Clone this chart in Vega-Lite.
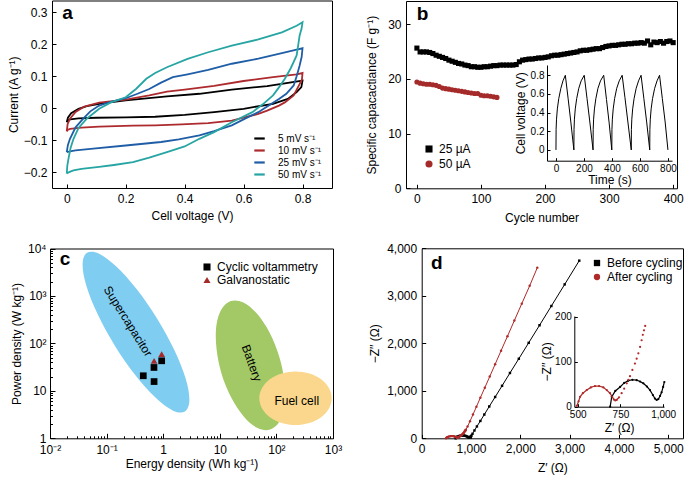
{
"$schema": "https://vega.github.io/schema/vega-lite/v6.json",
"width": 685, "height": 480, "autosize": {"type": "none"}, "padding": 0,
"background": "white",
"config": {
  "view": {"stroke": null},
  "font": "Liberation Sans",
  "axis": {"grid": false, "domainColor": "#000", "tickColor": "#000", "labelColor": "#000", "titleColor": "#000", "titleFontWeight": "normal", "labelFontSize": 12, "titleFontSize": 12, "tickSize": -4, "labelPadding": 9, "labelFont": "Liberation Sans", "titleFont": "Liberation Sans", "labelOverlap": false, "labelFlush": false},
  "legend": {"labelFont": "Liberation Sans", "labelColor": "#000", "labelFontSize": 12},
  "text": {"font": "Liberation Sans", "color": "#000"}
},
"datasets": {
  "cv": [
    {"s":"5 mV s⁻¹","i":0,"v":0,"c":-0.044},{"s":"5 mV s⁻¹","i":1,"v":0.004,"c":-0.03},{"s":"5 mV s⁻¹","i":2,"v":0.015,"c":-0.016},{"s":"5 mV s⁻¹","i":3,"v":0.04,"c":-0.002},{"s":"5 mV s⁻¹","i":4,"v":0.068,"c":0.006},{"s":"5 mV s⁻¹","i":5,"v":0.12,"c":0.015},{"s":"5 mV s⁻¹","i":6,"v":0.2,"c":0.024},{"s":"5 mV s⁻¹","i":7,"v":0.34,"c":0.037},{"s":"5 mV s⁻¹","i":8,"v":0.45,"c":0.045},{"s":"5 mV s⁻¹","i":9,"v":0.56,"c":0.058},{"s":"5 mV s⁻¹","i":10,"v":0.68,"c":0.069},{"s":"5 mV s⁻¹","i":11,"v":0.8,"c":0.086},{"s":"5 mV s⁻¹","i":12,"v":0.796,"c":0.066},{"s":"5 mV s⁻¹","i":13,"v":0.78,"c":0.05},{"s":"5 mV s⁻¹","i":14,"v":0.75,"c":0.029},{"s":"5 mV s⁻¹","i":15,"v":0.7,"c":0.0135},{"s":"5 mV s⁻¹","i":16,"v":0.6,"c":-0.002},{"s":"5 mV s⁻¹","i":17,"v":0.5,"c":-0.0125},{"s":"5 mV s⁻¹","i":18,"v":0.4,"c":-0.021},{"s":"5 mV s⁻¹","i":19,"v":0.3,"c":-0.027},{"s":"5 mV s⁻¹","i":20,"v":0.2,"c":-0.029},{"s":"5 mV s⁻¹","i":21,"v":0.1,"c":-0.03},{"s":"5 mV s⁻¹","i":22,"v":0.04,"c":-0.032},{"s":"5 mV s⁻¹","i":23,"v":0.012,"c":-0.035},{"s":"5 mV s⁻¹","i":24,"v":0.003,"c":-0.04},{"s":"5 mV s⁻¹","i":25,"v":0,"c":-0.044},
    {"s":"10 mV s⁻¹","i":0,"v":0,"c":-0.073},{"s":"10 mV s⁻¹","i":1,"v":0.003,"c":-0.05},{"s":"10 mV s⁻¹","i":2,"v":0.011,"c":-0.033},{"s":"10 mV s⁻¹","i":3,"v":0.03,"c":-0.012},{"s":"10 mV s⁻¹","i":4,"v":0.06,"c":0.005},{"s":"10 mV s⁻¹","i":5,"v":0.11,"c":0.017},{"s":"10 mV s⁻¹","i":6,"v":0.2,"c":0.027},{"s":"10 mV s⁻¹","i":7,"v":0.28,"c":0.04},{"s":"10 mV s⁻¹","i":8,"v":0.34,"c":0.052},{"s":"10 mV s⁻¹","i":9,"v":0.4,"c":0.058},{"s":"10 mV s⁻¹","i":10,"v":0.5,"c":0.07},{"s":"10 mV s⁻¹","i":11,"v":0.6,"c":0.085},{"s":"10 mV s⁻¹","i":12,"v":0.7,"c":0.097},{"s":"10 mV s⁻¹","i":13,"v":0.78,"c":0.106},{"s":"10 mV s⁻¹","i":14,"v":0.8,"c":0.11},{"s":"10 mV s⁻¹","i":15,"v":0.798,"c":0.09},{"s":"10 mV s⁻¹","i":16,"v":0.79,"c":0.075},{"s":"10 mV s⁻¹","i":17,"v":0.77,"c":0.04},{"s":"10 mV s⁻¹","i":18,"v":0.74,"c":0.018},{"s":"10 mV s⁻¹","i":19,"v":0.72,"c":0.008},{"s":"10 mV s⁻¹","i":20,"v":0.68,"c":-0.008},{"s":"10 mV s⁻¹","i":21,"v":0.65,"c":-0.018},{"s":"10 mV s⁻¹","i":22,"v":0.6,"c":-0.03},{"s":"10 mV s⁻¹","i":23,"v":0.56,"c":-0.039},{"s":"10 mV s⁻¹","i":24,"v":0.48,"c":-0.047},{"s":"10 mV s⁻¹","i":25,"v":0.39,"c":-0.051},{"s":"10 mV s⁻¹","i":26,"v":0.3,"c":-0.054},{"s":"10 mV s⁻¹","i":27,"v":0.225,"c":-0.055},{"s":"10 mV s⁻¹","i":28,"v":0.11,"c":-0.058},{"s":"10 mV s⁻¹","i":29,"v":0.05,"c":-0.061},{"s":"10 mV s⁻¹","i":30,"v":0.011,"c":-0.065},{"s":"10 mV s⁻¹","i":31,"v":0.003,"c":-0.068},{"s":"10 mV s⁻¹","i":32,"v":0,"c":-0.073},
    {"s":"25 mV s⁻¹","i":0,"v":0,"c":-0.1375},{"s":"25 mV s⁻¹","i":1,"v":0.004,"c":-0.115},{"s":"25 mV s⁻¹","i":2,"v":0.011,"c":-0.096},{"s":"25 mV s⁻¹","i":3,"v":0.03,"c":-0.06},{"s":"25 mV s⁻¹","i":4,"v":0.056,"c":-0.033},{"s":"25 mV s⁻¹","i":5,"v":0.08,"c":-0.01},{"s":"25 mV s⁻¹","i":6,"v":0.11,"c":0.008},{"s":"25 mV s⁻¹","i":7,"v":0.15,"c":0.02},{"s":"25 mV s⁻¹","i":8,"v":0.2,"c":0.031},{"s":"25 mV s⁻¹","i":9,"v":0.24,"c":0.045},{"s":"25 mV s⁻¹","i":10,"v":0.28,"c":0.06},{"s":"25 mV s⁻¹","i":11,"v":0.32,"c":0.08},{"s":"25 mV s⁻¹","i":12,"v":0.36,"c":0.097},{"s":"25 mV s⁻¹","i":13,"v":0.41,"c":0.106},{"s":"25 mV s⁻¹","i":14,"v":0.48,"c":0.12},{"s":"25 mV s⁻¹","i":15,"v":0.56,"c":0.139},{"s":"25 mV s⁻¹","i":16,"v":0.65,"c":0.155},{"s":"25 mV s⁻¹","i":17,"v":0.73,"c":0.172},{"s":"25 mV s⁻¹","i":18,"v":0.78,"c":0.183},{"s":"25 mV s⁻¹","i":19,"v":0.8,"c":0.1875},{"s":"25 mV s⁻¹","i":20,"v":0.797,"c":0.16},{"s":"25 mV s⁻¹","i":21,"v":0.79,"c":0.133},{"s":"25 mV s⁻¹","i":22,"v":0.78,"c":0.1},{"s":"25 mV s⁻¹","i":23,"v":0.77,"c":0.071},{"s":"25 mV s⁻¹","i":24,"v":0.745,"c":0.045},{"s":"25 mV s⁻¹","i":25,"v":0.72,"c":0.029},{"s":"25 mV s⁻¹","i":26,"v":0.68,"c":0.005},{"s":"25 mV s⁻¹","i":27,"v":0.65,"c":-0.0125},{"s":"25 mV s⁻¹","i":28,"v":0.6,"c":-0.035},{"s":"25 mV s⁻¹","i":29,"v":0.56,"c":-0.054},{"s":"25 mV s⁻¹","i":30,"v":0.5,"c":-0.072},{"s":"25 mV s⁻¹","i":31,"v":0.45,"c":-0.085},{"s":"25 mV s⁻¹","i":32,"v":0.38,"c":-0.098},{"s":"25 mV s⁻¹","i":33,"v":0.32,"c":-0.106},{"s":"25 mV s⁻¹","i":34,"v":0.2,"c":-0.117},{"s":"25 mV s⁻¹","i":35,"v":0.09,"c":-0.127},{"s":"25 mV s⁻¹","i":36,"v":0.03,"c":-0.132},{"s":"25 mV s⁻¹","i":37,"v":0.011,"c":-0.135},{"s":"25 mV s⁻¹","i":38,"v":0,"c":-0.1375},
    {"s":"50 mV s⁻¹","i":0,"v":0,"c":-0.205},{"s":"50 mV s⁻¹","i":1,"v":0.002,"c":-0.18},{"s":"50 mV s⁻¹","i":2,"v":0.006,"c":-0.158},{"s":"50 mV s⁻¹","i":3,"v":0.013,"c":-0.125},{"s":"50 mV s⁻¹","i":4,"v":0.023,"c":-0.096},{"s":"50 mV s⁻¹","i":5,"v":0.04,"c":-0.062},{"s":"50 mV s⁻¹","i":6,"v":0.068,"c":-0.033},{"s":"50 mV s⁻¹","i":7,"v":0.11,"c":-0.002},{"s":"50 mV s⁻¹","i":8,"v":0.15,"c":0.018},{"s":"50 mV s⁻¹","i":9,"v":0.2,"c":0.034},{"s":"50 mV s⁻¹","i":10,"v":0.235,"c":0.06},{"s":"50 mV s⁻¹","i":11,"v":0.27,"c":0.092},{"s":"50 mV s⁻¹","i":12,"v":0.3,"c":0.11},{"s":"50 mV s⁻¹","i":13,"v":0.34,"c":0.128},{"s":"50 mV s⁻¹","i":14,"v":0.41,"c":0.154},{"s":"50 mV s⁻¹","i":15,"v":0.48,"c":0.175},{"s":"50 mV s⁻¹","i":16,"v":0.56,"c":0.196},{"s":"50 mV s⁻¹","i":17,"v":0.65,"c":0.215},{"s":"50 mV s⁻¹","i":18,"v":0.73,"c":0.2375},{"s":"50 mV s⁻¹","i":19,"v":0.78,"c":0.258},{"s":"50 mV s⁻¹","i":20,"v":0.8,"c":0.269},{"s":"50 mV s⁻¹","i":21,"v":0.797,"c":0.25},{"s":"50 mV s⁻¹","i":22,"v":0.79,"c":0.227},{"s":"50 mV s⁻¹","i":23,"v":0.785,"c":0.195},{"s":"50 mV s⁻¹","i":24,"v":0.78,"c":0.165},{"s":"50 mV s⁻¹","i":25,"v":0.76,"c":0.125},{"s":"50 mV s⁻¹","i":26,"v":0.74,"c":0.092},{"s":"50 mV s⁻¹","i":27,"v":0.72,"c":0.065},{"s":"50 mV s⁻¹","i":28,"v":0.7,"c":0.04},{"s":"50 mV s⁻¹","i":29,"v":0.665,"c":0.012},{"s":"50 mV s⁻¹","i":30,"v":0.63,"c":-0.0125},{"s":"50 mV s⁻¹","i":31,"v":0.56,"c":-0.044},{"s":"50 mV s⁻¹","i":32,"v":0.5,"c":-0.075},{"s":"50 mV s⁻¹","i":33,"v":0.45,"c":-0.096},{"s":"50 mV s⁻¹","i":34,"v":0.4,"c":-0.12},{"s":"50 mV s⁻¹","i":35,"v":0.34,"c":-0.1375},{"s":"50 mV s⁻¹","i":36,"v":0.28,"c":-0.155},{"s":"50 mV s⁻¹","i":37,"v":0.225,"c":-0.169},{"s":"50 mV s⁻¹","i":38,"v":0.16,"c":-0.178},{"s":"50 mV s⁻¹","i":39,"v":0.11,"c":-0.184},{"s":"50 mV s⁻¹","i":40,"v":0.05,"c":-0.19},{"s":"50 mV s⁻¹","i":41,"v":0.023,"c":-0.195},{"s":"50 mV s⁻¹","i":42,"v":0.008,"c":-0.2},{"s":"50 mV s⁻¹","i":43,"v":0,"c":-0.205}
  ],
  "cap": [
    {"s":"25 µA","n":0,"c":25.6},{"s":"25 µA","n":5,"c":24.9},{"s":"25 µA","n":10,"c":24.9},{"s":"25 µA","n":15,"c":24.9},{"s":"25 µA","n":20,"c":24.8},{"s":"25 µA","n":25,"c":24.6},{"s":"25 µA","n":30,"c":24.3},{"s":"25 µA","n":35,"c":24.1},{"s":"25 µA","n":40,"c":23.9},{"s":"25 µA","n":45,"c":23.7},{"s":"25 µA","n":50,"c":23.4},{"s":"25 µA","n":55,"c":23.2},{"s":"25 µA","n":60,"c":23.0},{"s":"25 µA","n":65,"c":22.8},{"s":"25 µA","n":70,"c":22.7},{"s":"25 µA","n":75,"c":22.5},{"s":"25 µA","n":80,"c":22.4},{"s":"25 µA","n":85,"c":22.2},{"s":"25 µA","n":90,"c":22.2},{"s":"25 µA","n":95,"c":22.1},{"s":"25 µA","n":100,"c":22.1},{"s":"25 µA","n":105,"c":22.2},{"s":"25 µA","n":110,"c":22.2},{"s":"25 µA","n":115,"c":22.3},{"s":"25 µA","n":120,"c":22.4},{"s":"25 µA","n":125,"c":22.4},{"s":"25 µA","n":130,"c":22.5},{"s":"25 µA","n":135,"c":22.5},{"s":"25 µA","n":140,"c":22.5},{"s":"25 µA","n":145,"c":22.5},{"s":"25 µA","n":150,"c":22.5},{"s":"25 µA","n":155,"c":22.6},{"s":"25 µA","n":160,"c":23.1},{"s":"25 µA","n":165,"c":23.4},{"s":"25 µA","n":170,"c":23.5},{"s":"25 µA","n":175,"c":23.6},{"s":"25 µA","n":180,"c":23.6},{"s":"25 µA","n":185,"c":23.7},{"s":"25 µA","n":190,"c":23.8},{"s":"25 µA","n":195,"c":23.8},{"s":"25 µA","n":200,"c":23.9},{"s":"25 µA","n":205,"c":24.0},{"s":"25 µA","n":210,"c":24.2},{"s":"25 µA","n":215,"c":24.3},{"s":"25 µA","n":220,"c":24.3},{"s":"25 µA","n":225,"c":24.4},{"s":"25 µA","n":230,"c":24.5},{"s":"25 µA","n":235,"c":24.6},{"s":"25 µA","n":240,"c":24.7},{"s":"25 µA","n":245,"c":24.8},{"s":"25 µA","n":250,"c":24.9},{"s":"25 µA","n":255,"c":25.1},{"s":"25 µA","n":260,"c":25.2},{"s":"25 µA","n":265,"c":25.2},{"s":"25 µA","n":270,"c":25.3},{"s":"25 µA","n":275,"c":25.4},{"s":"25 µA","n":280,"c":25.5},{"s":"25 µA","n":285,"c":25.5},{"s":"25 µA","n":290,"c":25.7},{"s":"25 µA","n":295,"c":25.9},{"s":"25 µA","n":300,"c":26.0},{"s":"25 µA","n":305,"c":26.1},{"s":"25 µA","n":310,"c":26.1},{"s":"25 µA","n":315,"c":26.2},{"s":"25 µA","n":320,"c":26.3},{"s":"25 µA","n":325,"c":26.3},{"s":"25 µA","n":330,"c":26.4},{"s":"25 µA","n":335,"c":26.4},{"s":"25 µA","n":340,"c":26.5},{"s":"25 µA","n":345,"c":26.5},{"s":"25 µA","n":350,"c":26.6},{"s":"25 µA","n":355,"c":26.5},{"s":"25 µA","n":360,"c":26.9},{"s":"25 µA","n":365,"c":26.2},{"s":"25 µA","n":370,"c":26.7},{"s":"25 µA","n":375,"c":26.6},{"s":"25 µA","n":380,"c":26.8},{"s":"25 µA","n":385,"c":26.5},{"s":"25 µA","n":390,"c":26.8},{"s":"25 µA","n":395,"c":26.9},{"s":"25 µA","n":400,"c":26.6},
    {"s":"50 µA","n":0,"c":19.4},{"s":"50 µA","n":5,"c":19.2},{"s":"50 µA","n":10,"c":19.1},{"s":"50 µA","n":15,"c":19.0},{"s":"50 µA","n":20,"c":19.0},{"s":"50 µA","n":25,"c":18.9},{"s":"50 µA","n":30,"c":18.8},{"s":"50 µA","n":35,"c":18.6},{"s":"50 µA","n":40,"c":18.3},{"s":"50 µA","n":45,"c":18.2},{"s":"50 µA","n":50,"c":18.1},{"s":"50 µA","n":55,"c":18.0},{"s":"50 µA","n":60,"c":17.9},{"s":"50 µA","n":65,"c":17.8},{"s":"50 µA","n":70,"c":17.7},{"s":"50 µA","n":75,"c":17.6},{"s":"50 µA","n":80,"c":17.5},{"s":"50 µA","n":85,"c":17.4},{"s":"50 µA","n":90,"c":17.3},{"s":"50 µA","n":95,"c":17.3},{"s":"50 µA","n":100,"c":17.0},{"s":"50 µA","n":105,"c":16.9},{"s":"50 µA","n":110,"c":16.9},{"s":"50 µA","n":115,"c":16.8},{"s":"50 µA","n":120,"c":16.7},{"s":"50 µA","n":125,"c":16.6}
  ],
  "gcd": [
    {"t":0,"v":0},{"t":1,"v":0.22},{"t":4,"v":0.33},{"t":10,"v":0.44},{"t":20,"v":0.55},{"t":35,"v":0.66},{"t":50,"v":0.74},{"t":67,"v":0.8},{"t":87,"v":0.55},{"t":107,"v":0.29},{"t":128,"v":0},
    {"t":129,"v":0.22},{"t":132,"v":0.33},{"t":138,"v":0.44},{"t":148,"v":0.55},{"t":163,"v":0.66},{"t":180,"v":0.74},{"t":202,"v":0.8},{"t":222,"v":0.55},{"t":242,"v":0.3},{"t":265,"v":0},
    {"t":266,"v":0.22},{"t":269,"v":0.33},{"t":275,"v":0.44},{"t":285,"v":0.55},{"t":300,"v":0.66},{"t":318,"v":0.74},{"t":341,"v":0.8},{"t":361,"v":0.54},{"t":380,"v":0.29},{"t":399,"v":0},
    {"t":400,"v":0.22},{"t":403,"v":0.33},{"t":409,"v":0.44},{"t":419,"v":0.55},{"t":434,"v":0.66},{"t":452,"v":0.74},{"t":473,"v":0.8},{"t":493,"v":0.56},{"t":513,"v":0.31},{"t":538,"v":0},
    {"t":539,"v":0.22},{"t":542,"v":0.33},{"t":548,"v":0.44},{"t":558,"v":0.55},{"t":573,"v":0.66},{"t":590,"v":0.74},{"t":608,"v":0.8},{"t":628,"v":0.55},{"t":648,"v":0.3},{"t":670,"v":0},
    {"t":671,"v":0.22},{"t":674,"v":0.33},{"t":680,"v":0.44},{"t":690,"v":0.55},{"t":705,"v":0.66},{"t":722,"v":0.74},{"t":740,"v":0.8},{"t":760,"v":0.55},{"t":780,"v":0.3},{"t":800,"v":0}
  ],
  "ell": [
    {"r":"Supercapacitor","i":0,"e":2.42,"p":3.67},{"r":"Supercapacitor","i":1,"e":1.49,"p":3.83},{"r":"Supercapacitor","i":2,"e":0.731,"p":7.21},{"r":"Supercapacitor","i":3,"e":0.318,"p":21.8},{"r":"Supercapacitor","i":4,"e":0.139,"p":90.8},{"r":"Supercapacitor","i":5,"e":0.0693,"p":416},{"r":"Supercapacitor","i":6,"e":0.0437,"p":1667},{"r":"Supercapacitor","i":7,"e":0.0377,"p":4722},{"r":"Supercapacitor","i":8,"e":0.0451,"p":8110},{"r":"Supercapacitor","i":9,"e":0.0735,"p":7762},{"r":"Supercapacitor","i":10,"e":0.150,"p":4121},{"r":"Supercapacitor","i":11,"e":0.344,"p":1365},{"r":"Supercapacitor","i":12,"e":0.787,"p":328},{"r":"Supercapacitor","i":13,"e":1.58,"p":71.5},{"r":"Supercapacitor","i":14,"e":2.50,"p":17.9},{"r":"Supercapacitor","i":15,"e":2.90,"p":6.30},
    {"r":"Battery","i":0,"e":77.4,"p":1.53},{"r":"Battery","i":1,"e":46.6,"p":1.64},{"r":"Battery","i":2,"e":26.9,"p":2.82},{"r":"Battery","i":3,"e":16.1,"p":7.05},{"r":"Battery","i":4,"e":10.8,"p":22.5},{"r":"Battery","i":5,"e":8.75,"p":77.3},{"r":"Battery","i":6,"e":8.67,"p":232},{"r":"Battery","i":7,"e":10.7,"p":524},{"r":"Battery","i":8,"e":15.7,"p":784},{"r":"Battery","i":9,"e":26.1,"p":729},{"r":"Battery","i":10,"e":45.2,"p":425},{"r":"Battery","i":11,"e":75.5,"p":170},{"r":"Battery","i":12,"e":112,"p":53.1},{"r":"Battery","i":13,"e":139,"p":15.5},{"r":"Battery","i":14,"e":140,"p":5.16},{"r":"Battery","i":15,"e":114,"p":2.29},
    {"r":"Fuel cell","i":0,"e":948,"p":7.01},{"r":"Fuel cell","i":1,"e":849,"p":4.27},{"r":"Fuel cell","i":2,"e":617,"p":2.79},{"r":"Fuel cell","i":3,"e":383,"p":2.11},{"r":"Fuel cell","i":4,"e":217,"p":1.91},{"r":"Fuel cell","i":5,"e":124,"p":2.11},{"r":"Fuel cell","i":6,"e":76.7,"p":2.79},{"r":"Fuel cell","i":7,"e":55.8,"p":4.27},{"r":"Fuel cell","i":8,"e":49.9,"p":7.01},{"r":"Fuel cell","i":9,"e":55.8,"p":11.5},{"r":"Fuel cell","i":10,"e":76.7,"p":17.6},{"r":"Fuel cell","i":11,"e":124,"p":23.3},{"r":"Fuel cell","i":12,"e":217,"p":25.7},{"r":"Fuel cell","i":13,"e":383,"p":23.3},{"r":"Fuel cell","i":14,"e":617,"p":17.6},{"r":"Fuel cell","i":15,"e":849,"p":11.5}
  ],
  "rag": [
    {"s":"Galvanostatic","e":0.69,"p":43},{"s":"Galvanostatic","e":0.94,"p":59.7},
    {"s":"Cyclic voltammetry","e":0.445,"p":20.8},{"s":"Cyclic voltammetry","e":0.687,"p":31.1},{"s":"Cyclic voltammetry","e":0.69,"p":15.7},{"s":"Cyclic voltammetry","e":0.94,"p":43}
  ],
  "eis": [
    {"s":"Before cycling","zr":690,"zi":0,"arc":1},{"s":"Before cycling","zr":699,"zi":22,"arc":1},{"s":"Before cycling","zr":720,"zi":35,"arc":1},{"s":"Before cycling","zr":748,"zi":44,"arc":1},{"s":"Before cycling","zr":772,"zi":53,"arc":1},{"s":"Before cycling","zr":796,"zi":58,"arc":1},{"s":"Before cycling","zr":820,"zi":60,"arc":1},{"s":"Before cycling","zr":845,"zi":59,"arc":1},{"s":"Before cycling","zr":865,"zi":56,"arc":1},{"s":"Before cycling","zr":884,"zi":52,"arc":1},{"s":"Before cycling","zr":905,"zi":45,"arc":1},{"s":"Before cycling","zr":923,"zi":37,"arc":1},{"s":"Before cycling","zr":940,"zi":26,"arc":1},{"s":"Before cycling","zr":952,"zi":18,"arc":1},{"s":"Before cycling","zr":962,"zi":15,"arc":1},{"s":"Before cycling","zr":972,"zi":17,"arc":1},{"s":"Before cycling","zr":982,"zi":24,"arc":1},{"s":"Before cycling","zr":991,"zi":32,"arc":1},{"s":"Before cycling","zr":1000,"zi":44,"arc":1},{"s":"Before cycling","zr":1007,"zi":55,"arc":1},{"s":"Before cycling","zr":1030,"zi":95,"arc":0},{"s":"Before cycling","zr":1070,"zi":165,"arc":0},{"s":"Before cycling","zr":1120,"zi":250,"arc":0},{"s":"Before cycling","zr":1190,"zi":365,"arc":0},{"s":"Before cycling","zr":1270,"zi":500,"arc":0},{"s":"Before cycling","zr":1370,"zi":670,"arc":0},{"s":"Before cycling","zr":1490,"zi":870,"arc":0},{"s":"Before cycling","zr":1630,"zi":1105,"arc":0},{"s":"Before cycling","zr":1790,"zi":1375,"arc":0},{"s":"Before cycling","zr":1970,"zi":1675,"arc":0},{"s":"Before cycling","zr":2170,"zi":2010,"arc":0},{"s":"Before cycling","zr":2390,"zi":2380,"arc":0},{"s":"Before cycling","zr":2630,"zi":2785,"arc":0},{"s":"Before cycling","zr":2900,"zi":3240,"arc":0},{"s":"Before cycling","zr":3196,"zi":3740,"arc":0},
    {"s":"After cycling","zr":495,"zi":2,"arc":1},{"s":"After cycling","zr":505,"zi":12,"arc":1},{"s":"After cycling","zr":514,"zi":22,"arc":1},{"s":"After cycling","zr":530,"zi":30,"arc":1},{"s":"After cycling","zr":553,"zi":37,"arc":1},{"s":"After cycling","zr":577,"zi":43,"arc":1},{"s":"After cycling","zr":601,"zi":46,"arc":1},{"s":"After cycling","zr":625,"zi":46,"arc":1},{"s":"After cycling","zr":650,"zi":43,"arc":1},{"s":"After cycling","zr":670,"zi":37,"arc":1},{"s":"After cycling","zr":689,"zi":30,"arc":1},{"s":"After cycling","zr":702,"zi":22,"arc":1},{"s":"After cycling","zr":712,"zi":16,"arc":1},{"s":"After cycling","zr":720,"zi":14,"arc":1},{"s":"After cycling","zr":728,"zi":15,"arc":1},{"s":"After cycling","zr":742,"zi":21,"arc":1},{"s":"After cycling","zr":757,"zi":30,"arc":0},{"s":"After cycling","zr":772,"zi":40,"arc":0},{"s":"After cycling","zr":787,"zi":52,"arc":0},{"s":"After cycling","zr":797,"zi":60,"arc":0},{"s":"After cycling","zr":806,"zi":68,"arc":0},{"s":"After cycling","zr":820,"zi":82,"arc":0},{"s":"After cycling","zr":835,"zi":96,"arc":0},{"s":"After cycling","zr":845,"zi":107,"arc":0},{"s":"After cycling","zr":855,"zi":119,"arc":0},{"s":"After cycling","zr":865,"zi":133,"arc":0},{"s":"After cycling","zr":874,"zi":148,"arc":0},{"s":"After cycling","zr":881,"zi":160,"arc":0},{"s":"After cycling","zr":888,"zi":170,"arc":0},{"s":"After cycling","zr":895,"zi":180,"arc":0},{"s":"After cycling","zr":930,"zi":250,"arc":0},{"s":"After cycling","zr":980,"zi":360,"arc":0},{"s":"After cycling","zr":1040,"zi":500,"arc":0},{"s":"After cycling","zr":1110,"zi":665,"arc":0},{"s":"After cycling","zr":1190,"zi":855,"arc":0},{"s":"After cycling","zr":1280,"zi":1065,"arc":0},{"s":"After cycling","zr":1380,"zi":1300,"arc":0},{"s":"After cycling","zr":1490,"zi":1560,"arc":0},{"s":"After cycling","zr":1610,"zi":1845,"arc":0},{"s":"After cycling","zr":1740,"zi":2150,"arc":0},{"s":"After cycling","zr":1880,"zi":2480,"arc":0},{"s":"After cycling","zr":2030,"zi":2835,"arc":0},{"s":"After cycling","zr":2190,"zi":3210,"arc":0},{"s":"After cycling","zr":2345,"zi":3593,"arc":0}
  ]
},
"layer": [
  {"data": {"name": "cv"}, "mark": {"type": "line", "strokeWidth": 1.8},
   "encoding": {
     "x": {"field": "v", "type": "quantitative", "scale": {"domain": [-0.05, 0.9], "range": [52, 332], "nice": false, "zero": false},
           "axis": {"orient": "bottom", "offset": -292, "values": [0, 0.2, 0.4, 0.6, 0.8], "labelExpr": "datum.value == 0 ? '0' : format(datum.value, '.1f')", "title": "Cell voltage (V)", "titlePadding": 6}},
     "y": {"field": "c", "type": "quantitative", "scale": {"domain": [-0.25, 0.337], "range": [188, 0.5], "nice": false, "zero": false},
           "axis": {"orient": "left", "offset": -52, "values": [-0.2, -0.1, 0, 0.1, 0.2, 0.3], "labelExpr": "datum.value == 0 ? '0' : format(datum.value, '.1f')", "title": "Current (A g⁻¹)", "titlePadding": 3}},
     "color": {"field": "s", "type": "nominal", "scale": {"domain": ["5 mV s⁻¹", "10 mV s⁻¹", "25 mV s⁻¹", "50 mV s⁻¹"], "range": ["#000000", "#ad2a2e", "#1f5ea6", "#26a5a3"]},
               "legend": {"orient": "none", "legendX": 253, "legendY": 132, "title": null, "symbolType": "stroke", "symbolStrokeWidth": 2.2, "symbolSize": 110, "labelFontSize": 10, "rowPadding": 0, "labelOffset": 12}},
     "order": {"field": "i", "type": "quantitative"}
   }},
  {"data": {"name": "cv"}, "mark": {"type": "point", "opacity": 0},
   "encoding": {
     "x": {"field": "v", "type": "quantitative", "scale": {"domain": [-0.05, 0.9], "range": [52, 332], "nice": false, "zero": false}, "axis": {"orient": "top", "offset": -0.5, "labels": false, "ticks": false, "title": null}},
     "y": {"field": "c", "type": "quantitative", "scale": {"domain": [-0.25, 0.337], "range": [188, 0.5], "nice": false, "zero": false}, "axis": {"orient": "right", "offset": -353, "labels": false, "ticks": false, "title": null}}
   }},
  {"data": {"values": [{"x": 0.003, "y": 0.298, "t": "a"}]}, "mark": {"type": "text", "fontSize": 19, "fontWeight": "bold", "align": "center", "baseline": "middle"},
   "encoding": {
     "x": {"field": "x", "type": "quantitative", "scale": {"domain": [-0.05, 0.9], "range": [52, 332], "nice": false, "zero": false}, "axis": null},
     "y": {"field": "y", "type": "quantitative", "scale": {"domain": [-0.25, 0.337], "range": [188, 0.5], "nice": false, "zero": false}, "axis": null},
     "text": {"field": "t"}
   }},

  {"data": {"name": "cap"}, "mark": {"type": "point", "filled": true, "opacity": 1, "size": 26},
   "encoding": {
     "x": {"field": "n", "type": "quantitative", "scale": {"domain": [-17, 406], "range": [406, 677], "nice": false, "zero": false},
           "axis": {"orient": "bottom", "offset": -291.7, "values": [0, 100, 200, 300, 400], "title": "Cycle number", "titlePadding": 8}},
     "y": {"field": "c", "type": "quantitative", "scale": {"domain": [0, 34.2], "range": [188.3, 1], "nice": false, "zero": false},
           "axis": {"orient": "left", "offset": -406, "values": [0, 10, 20, 30], "title": "Specific capacactiance (F g⁻¹)", "titlePadding": 9}},
     "color": {"field": "s", "type": "nominal", "scale": {"domain": ["25 µA", "50 µA"], "range": ["#000000", "#a52a2a"]},
               "legend": {"orient": "none", "legendX": 423, "legendY": 143, "title": null, "symbolSize": 50, "labelFontSize": 12, "rowPadding": 3}},
     "shape": {"field": "s", "type": "nominal", "scale": {"domain": ["25 µA", "50 µA"], "range": ["square", "circle"]},
               "legend": {"orient": "none", "legendX": 423, "legendY": 143, "title": null, "symbolSize": 50, "labelFontSize": 12, "rowPadding": 3}}
   }},
  {"data": {"name": "cap"}, "mark": {"type": "point", "opacity": 0},
   "encoding": {
     "x": {"field": "n", "type": "quantitative", "scale": {"domain": [-17, 406], "range": [406, 677], "nice": false, "zero": false}, "axis": {"orient": "top", "offset": -1, "labels": false, "ticks": false, "title": null}},
     "y": {"field": "c", "type": "quantitative", "scale": {"domain": [0, 34.2], "range": [188.3, 1], "nice": false, "zero": false}, "axis": {"orient": "right", "offset": -8, "labels": false, "ticks": false, "title": null}}
   }},
  {"data": {"values": [{"x": 8.9, "y": 31.8, "t": "b"}]}, "mark": {"type": "text", "fontSize": 19, "fontWeight": "bold", "align": "center", "baseline": "middle"},
   "encoding": {
     "x": {"field": "x", "type": "quantitative", "scale": {"domain": [-17, 406], "range": [406, 677], "nice": false, "zero": false}, "axis": null},
     "y": {"field": "y", "type": "quantitative", "scale": {"domain": [0, 34.2], "range": [188.3, 1], "nice": false, "zero": false}, "axis": null},
     "text": {"field": "t"}
   }},
  {"data": {"name": "gcd"}, "mark": {"type": "line", "color": "#000000", "strokeWidth": 1},
   "encoding": {
     "x": {"field": "t", "type": "quantitative", "scale": {"domain": [-64, 829], "range": [547, 672], "nice": false, "zero": false},
           "axis": {"orient": "bottom", "offset": -319.3, "values": [0, 200, 400, 600, 800], "title": "Time (s)", "labelFontSize": 10, "titleFontSize": 12, "titlePadding": 1, "tickSize": -3, "labelPadding": 6}},
     "y": {"field": "v", "type": "quantitative", "scale": {"domain": [-0.115, 0.91], "range": [160.7, 65], "nice": false, "zero": false},
           "axis": {"orient": "left", "offset": -547, "values": [0, 0.2, 0.4, 0.6, 0.8], "labelExpr": "datum.value == 0 ? '0' : format(datum.value, '.1f')", "title": "Cell voltage (V)", "labelFontSize": 10, "titleFontSize": 12, "titlePadding": 3, "tickSize": -3, "labelPadding": 6}}
   }},

  {"data": {"name": "ell"}, "mark": {"type": "line", "interpolate": "cardinal-closed", "strokeOpacity": 0},
   "encoding": {
     "x": {"field": "e", "type": "quantitative", "scale": {"type": "log", "domain": [0.01, 1000], "range": [50, 333], "nice": false},
           "axis": {"orient": "bottom", "offset": -41.7, "values": [0.01,0.02,0.03,0.04,0.05,0.06,0.07,0.08,0.09,0.1,0.2,0.3,0.4,0.5,0.6,0.7,0.8,0.9,1,2,3,4,5,6,7,8,9,10,20,30,40,50,60,70,80,90,100,200,300,400,500,600,700,800,900,1000],
                    "labelExpr": "datum.value == 0.01 ? '10⁻²' : datum.value == 0.1 ? '10⁻¹' : datum.value == 1 ? '1' : datum.value == 10 ? '10' : datum.value == 100 ? '10²' : datum.value == 1000 ? '10³' : ''",
                    "tickSize": {"condition": {"test": "indexof([0.01, 0.1, 1, 10, 100, 1000], datum.value) >= 0", "value": -5}, "value": -2.5},
                    "labelPadding": 11, "title": "Energy density (Wh kg⁻¹)", "titlePadding": 1}},
     "y": {"field": "p", "type": "quantitative", "scale": {"type": "log", "domain": [1, 10000], "range": [438.3, 248.5], "nice": false},
           "axis": {"orient": "left", "offset": -50, "values": [1,2,3,4,5,6,7,8,9,10,20,30,40,50,60,70,80,90,100,200,300,400,500,600,700,800,900,1000,2000,3000,4000,5000,6000,7000,8000,9000,10000],
                    "labelExpr": "datum.value == 1 ? '1' : datum.value == 10 ? '10' : datum.value == 100 ? '10²' : datum.value == 1000 ? '10³' : datum.value == 10000 ? '10⁴' : ''",
                    "tickSize": {"condition": {"test": "indexof([1, 10, 100, 1000, 10000], datum.value) >= 0", "value": -5}, "value": -2.5},
                    "title": "Power density (W kg⁻¹)", "titlePadding": 4}},
     "fill": {"field": "r", "type": "nominal", "scale": {"domain": ["Supercapacitor", "Battery", "Fuel cell"], "range": ["#7fcdf1", "#a2c965", "#fad78c"]}, "legend": null},
     "order": {"field": "i", "type": "quantitative"}
   }},
  {"data": {"name": "ell"}, "mark": {"type": "point", "opacity": 0},
   "encoding": {
     "x": {"field": "e", "type": "quantitative", "scale": {"type": "log", "domain": [0.01, 1000], "range": [50, 333], "nice": false}, "axis": {"orient": "top", "offset": -248.5, "labels": false, "ticks": false, "title": null}},
     "y": {"field": "p", "type": "quantitative", "scale": {"type": "log", "domain": [1, 10000], "range": [438.3, 248.5], "nice": false}, "axis": {"orient": "right", "offset": -352, "labels": false, "ticks": false, "title": null}}
   }},
  {"data": {"values": [{"e": 0.239, "p": 292, "t": "Supercapacitor"}]}, "mark": {"type": "text", "fontSize": 12, "angle": 58, "align": "center", "baseline": "middle"},
   "encoding": {
     "x": {"field": "e", "type": "quantitative", "scale": {"type": "log", "domain": [0.01, 1000], "range": [50, 333], "nice": false}, "axis": null},
     "y": {"field": "p", "type": "quantitative", "scale": {"type": "log", "domain": [1, 10000], "range": [438.3, 248.5], "nice": false}, "axis": null},
     "text": {"field": "t"}
   }},
  {"data": {"values": [{"e": 36.6, "p": 38.5, "t": "Battery"}]}, "mark": {"type": "text", "fontSize": 12, "angle": 70, "align": "center", "baseline": "middle"},
   "encoding": {
     "x": {"field": "e", "type": "quantitative", "scale": {"type": "log", "domain": [0.01, 1000], "range": [50, 333], "nice": false}, "axis": null},
     "y": {"field": "p", "type": "quantitative", "scale": {"type": "log", "domain": [1, 10000], "range": [438.3, 248.5], "nice": false}, "axis": null},
     "text": {"field": "t"}
   }},
  {"data": {"values": [{"e": 229, "p": 6.24, "t": "Fuel cell"}]}, "mark": {"type": "text", "fontSize": 12, "align": "center", "baseline": "middle"},
   "encoding": {
     "x": {"field": "e", "type": "quantitative", "scale": {"type": "log", "domain": [0.01, 1000], "range": [50, 333], "nice": false}, "axis": null},
     "y": {"field": "p", "type": "quantitative", "scale": {"type": "log", "domain": [1, 10000], "range": [438.3, 248.5], "nice": false}, "axis": null},
     "text": {"field": "t"}
   }},
  {"data": {"values": [{"e": 0.0184, "p": 5888, "t": "c"}]}, "mark": {"type": "text", "fontSize": 19, "fontWeight": "bold", "align": "center", "baseline": "middle"},
   "encoding": {
     "x": {"field": "e", "type": "quantitative", "scale": {"type": "log", "domain": [0.01, 1000], "range": [50, 333], "nice": false}, "axis": null},
     "y": {"field": "p", "type": "quantitative", "scale": {"type": "log", "domain": [1, 10000], "range": [438.3, 248.5], "nice": false}, "axis": null},
     "text": {"field": "t"}
   }},
  {"data": {"name": "rag"}, "mark": {"type": "point", "filled": true, "opacity": 1, "size": 45},
   "encoding": {
     "x": {"field": "e", "type": "quantitative", "scale": {"type": "log", "domain": [0.01, 1000], "range": [50, 333], "nice": false}, "axis": null},
     "y": {"field": "p", "type": "quantitative", "scale": {"type": "log", "domain": [1, 10000], "range": [438.3, 248.5], "nice": false}, "axis": null},
     "color": {"field": "s", "type": "nominal", "scale": {"domain": ["Cyclic voltammetry", "Galvanostatic"], "range": ["#000000", "#a52a2a"]},
               "legend": {"orient": "none", "legendX": 201, "legendY": 261, "title": null, "symbolSize": 50, "labelFontSize": 12, "rowPadding": 1}},
     "shape": {"field": "s", "type": "nominal", "scale": {"domain": ["Cyclic voltammetry", "Galvanostatic"], "range": ["square", "triangle-up"]},
               "legend": {"orient": "none", "legendX": 201, "legendY": 261, "title": null, "symbolSize": 50, "labelFontSize": 12, "rowPadding": 1}}
   }},

  {"data": {"name": "eis"}, "mark": {"type": "line", "strokeWidth": 1},
   "encoding": {
     "x": {"field": "zr", "type": "quantitative", "scale": {"domain": [0, 5300], "range": [421.7, 683], "nice": false, "zero": false},
           "axis": {"orient": "bottom", "offset": -41.7, "values": [0, 1000, 2000, 3000, 4000, 5000], "format": ",d", "title": "Z′ (Ω)", "titlePadding": 8}},
     "y": {"field": "zi", "type": "quantitative", "scale": {"domain": [0, 4000], "range": [438.3, 248.3], "nice": false, "zero": false},
           "axis": {"orient": "left", "offset": -421.7, "values": [0, 1000, 2000, 3000, 4000], "format": ",d", "title": "−Z′′ (Ω)", "titlePadding": 5}},
     "color": {"field": "s", "type": "nominal", "scale": {"domain": ["Before cycling", "After cycling"], "range": ["#000000", "#b02a2a"]}, "legend": null}
   }},
  {"data": {"name": "eis"}, "mark": {"type": "point", "filled": true, "opacity": 1, "size": 6},
   "encoding": {
     "x": {"field": "zr", "type": "quantitative", "scale": {"domain": [0, 5300], "range": [421.7, 683], "nice": false, "zero": false}, "axis": {"orient": "top", "offset": -248.3, "labels": false, "ticks": false, "title": null}},
     "y": {"field": "zi", "type": "quantitative", "scale": {"domain": [0, 4000], "range": [438.3, 248.3], "nice": false, "zero": false}, "axis": {"orient": "right", "offset": -2, "labels": false, "ticks": false, "title": null}},
     "color": {"field": "s", "type": "nominal", "scale": {"domain": ["Before cycling", "After cycling"], "range": ["#000000", "#b02a2a"]},
               "legend": {"orient": "none", "legendX": 591, "legendY": 257, "title": null, "symbolSize": 40, "labelFontSize": 12, "rowPadding": 2}},
     "shape": {"field": "s", "type": "nominal", "scale": {"domain": ["Before cycling", "After cycling"], "range": ["square", "circle"]},
               "legend": {"orient": "none", "legendX": 591, "legendY": 257, "title": null, "symbolSize": 40, "labelFontSize": 12, "rowPadding": 2}}
   }},
  {"data": {"values": [{"x": 304, "y": 3684, "t": "d"}]}, "mark": {"type": "text", "fontSize": 19, "fontWeight": "bold", "align": "center", "baseline": "middle"},
   "encoding": {
     "x": {"field": "x", "type": "quantitative", "scale": {"domain": [0, 5300], "range": [421.7, 683], "nice": false, "zero": false}, "axis": null},
     "y": {"field": "y", "type": "quantitative", "scale": {"domain": [0, 4000], "range": [438.3, 248.3], "nice": false, "zero": false}, "axis": null},
     "text": {"field": "t"}
   }},
  {"data": {"name": "eis"}, "transform": [{"filter": "datum.arc == 1"}], "mark": {"type": "line", "strokeWidth": 1.2},
   "encoding": {
     "x": {"field": "zr", "type": "quantitative", "scale": {"domain": [480, 1005], "range": [574.3, 664], "nice": false, "zero": false},
           "axis": {"orient": "bottom", "offset": -73.3, "values": [500, 750, 1000], "format": ",d", "title": "Z′ (Ω)", "labelFontSize": 10, "titleFontSize": 12, "titlePadding": 3, "tickSize": -3, "labelPadding": 6}},
     "y": {"field": "zi", "type": "quantitative", "scale": {"domain": [0, 202], "range": [406.7, 316], "nice": false, "zero": false},
           "axis": {"orient": "left", "offset": -574.3, "values": [0, 100, 200], "title": "−Z′′ (Ω)", "labelFontSize": 10, "titleFontSize": 12, "titlePadding": 1, "tickSize": -3, "labelPadding": 6}},
     "color": {"field": "s", "type": "nominal", "scale": {"domain": ["Before cycling", "After cycling"], "range": ["#000000", "#b02a2a"]}, "legend": null}
   }},
  {"data": {"name": "eis"}, "transform": [{"filter": "datum.zr <= 1010 && datum.zi <= 200"}], "mark": {"type": "point", "filled": true, "opacity": 1, "size": 5},
   "encoding": {
     "x": {"field": "zr", "type": "quantitative", "scale": {"domain": [480, 1005], "range": [574.3, 664], "nice": false, "zero": false}, "axis": null},
     "y": {"field": "zi", "type": "quantitative", "scale": {"domain": [0, 202], "range": [406.7, 316], "nice": false, "zero": false}, "axis": null},
     "color": {"field": "s", "type": "nominal", "scale": {"domain": ["Before cycling", "After cycling"], "range": ["#000000", "#b02a2a"]}, "legend": null}
   }}
],
"resolve": {
  "scale": {"x": "independent", "y": "independent", "color": "independent", "shape": "independent", "fill": "independent"},
  "axis": {"x": "independent", "y": "independent"},
  "legend": {"color": "independent", "shape": "independent"}
}
}
